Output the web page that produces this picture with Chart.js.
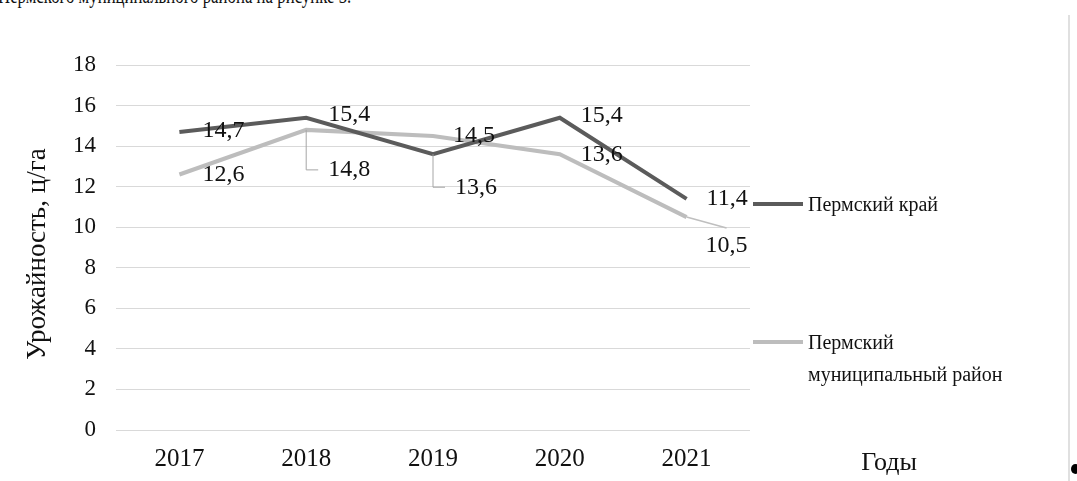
<!DOCTYPE html>
<html>
<head>
<meta charset="utf-8">
<script src="https://cdn.jsdelivr.net/npm/chart.js@4.4.1/dist/chart.umd.min.js"></script>
<style>
  body { margin: 0; background: #fff; }
  #wrap { position: relative; width: 1077px; height: 481px; overflow: hidden; }
  #topText { position: absolute; left: -2px; top: -18px; font: 24px "Liberation Serif", serif; color: #111; white-space: nowrap; transform: scaleX(0.7); transform-origin: left top; }
  #page-edge { position: absolute; left: 1068px; top: 15px; width: 2px; height: 470px; background: #e0e0e0; }
  #bullet { position: absolute; left: 1071px; top: 464px; width: 9px; height: 10px; border-radius: 50%; background: #000; }
  canvas { position: absolute; left: 0; top: 0; }
</style>
</head>
<body>
<div id="wrap">
  <div id="topText">Пермского муниципального района на рисунке 3.</div>
  <canvas id="chart" width="1077" height="481"></canvas>
  <div id="page-edge"></div>
  <div id="bullet"></div>
</div>
<script>
  "use strict";

  // data
  var years = ["2017", "2018", "2019", "2020", "2021"];
  var kraiValues = [14.7, 15.4, 13.6, 15.4, 11.4];
  var raionValues = [12.6, 14.8, 14.5, 13.6, 10.5];
  var yMax = 18;
  var yStep = 2;
  var seriesNames = ["Пермский край", ["Пермский", "муниципальный район"]];
  var yTitle = "Урожайность, ц/га";
  var xTitle = "Годы";

  // label placement (offset from point), leader: "elbow" | "diag" | null
  var kraiLabelPos = [
    { dx: 23, dy: -1 }, { dx: 22, dy: -3 }, { dx: 22, dy: 33, leader: "elbow" },
    { dx: 21, dy: -2 }, { dx: 20, dy: 0 }
  ];
  var raionLabelPos = [
    { dx: 23, dy: 0 }, { dx: 22, dy: 40, leader: "elbow" }, { dx: 20, dy: 0 },
    { dx: 21, dy: 0 }, { dx: 19, dy: 29, leader: "diag" }
  ];

  var darkColor = "#5b5b5b";
  var lightColor = "#bdbdbd";
  var serif = "'Liberation Serif', 'Times New Roman', serif";

  function fmt(v) { return v.toFixed(1).replace(".", ","); }

  // labels, legend, titles
  var extras = {
    id: "extras",
    afterDatasetsDraw: function (chart) {
      var ctx = chart.ctx;
      ctx.save();
      ctx.font = "24px " + serif;
      ctx.fillStyle = "#111";
      ctx.textBaseline = "middle";
      ctx.textAlign = "left";
      [kraiLabelPos, raionLabelPos].forEach(function (pos, di) {
        var meta = chart.getDatasetMeta(di);
        var vals = chart.data.datasets[di].data;
        meta.data.forEach(function (pt, i) {
          var p = pos[i];
          var lx = pt.x + p.dx, ly = pt.y + p.dy;
          if (p.leader === "elbow") {
            ctx.strokeStyle = "#a6a6a6";
            ctx.lineWidth = 1;
            ctx.beginPath();
            ctx.moveTo(pt.x, pt.y);
            ctx.lineTo(pt.x, ly);
            ctx.lineTo(pt.x + 12, ly);
            ctx.stroke();
          } else if (p.leader === "diag") {
            ctx.strokeStyle = "#bfbfbf";
            ctx.lineWidth = 1.5;
            ctx.beginPath();
            ctx.moveTo(pt.x, pt.y);
            ctx.lineTo(pt.x + 40, pt.y + 11);
            ctx.stroke();
          }
          ctx.fillText(fmt(vals[i]), lx, ly);
        });
      });

      // legend
      var lx0 = chart.chartArea.right + 3;
      var items = [
        { color: darkColor, y: 204, lines: [seriesNames[0]] },
        { color: lightColor, y: 342, lines: seriesNames[1] }
      ];
      ctx.font = "20px " + serif;
      items.forEach(function (it) {
        ctx.strokeStyle = it.color;
        ctx.lineWidth = 4;
        ctx.beginPath();
        ctx.moveTo(lx0, it.y);
        ctx.lineTo(lx0 + 50, it.y);
        ctx.stroke();
        it.lines.forEach(function (t, k) {
          ctx.fillText(t, lx0 + 55, it.y + 2 + k * 32);
        });
      });

      // axis titles
      ctx.font = "26px " + serif;
      ctx.textAlign = "center";
      ctx.fillText(xTitle, 889, 463);
      ctx.font = "27px " + serif;
      ctx.translate(38, 254);
      ctx.rotate(-Math.PI / 2);
      ctx.fillText(yTitle, 0, 0);
      ctx.restore();
    }
  };

  var ctx = document.getElementById("chart").getContext("2d");
  var myChart = new Chart(ctx, {
    type: "line",
    data: {
      labels: years,
      datasets: [{
        label: "Пермский край",
        data: kraiValues,
        borderColor: darkColor,
        borderWidth: 4,
        pointRadius: 0,
        tension: 0
      },
      {
        label: "Пермский муниципальный район",
        data: raionValues,
        borderColor: lightColor,
        borderWidth: 4,
        pointRadius: 0,
        tension: 0
      }]
    },
    options: {
      responsive: false,
      animation: false,
      layout: { padding: { left: 0, top: 65, right: 327, bottom: 0 } },
      plugins: { legend: { display: false }, tooltip: { enabled: false } },
      scales: {
        x: {
          offset: true,
          grid: { display: false, drawTicks: false },
          border: { display: false },
          ticks: { color: "#111", font: { family: serif, size: 25 }, padding: 14, maxRotation: 0 },
          afterFit: function (s) { s.height = 51; }
        },
        y: {
          min: 0,
          max: yMax,
          grid: { color: "#d9d9d9", lineWidth: 1, drawTicks: false },
          border: { display: false },
          ticks: { stepSize: yStep, color: "#111", font: { family: serif, size: 23 }, padding: 20 },
          afterFit: function (s) { s.width = 116; }
        }
      }
    },
    plugins: [extras]
  });
</script>
</body>
</html>
